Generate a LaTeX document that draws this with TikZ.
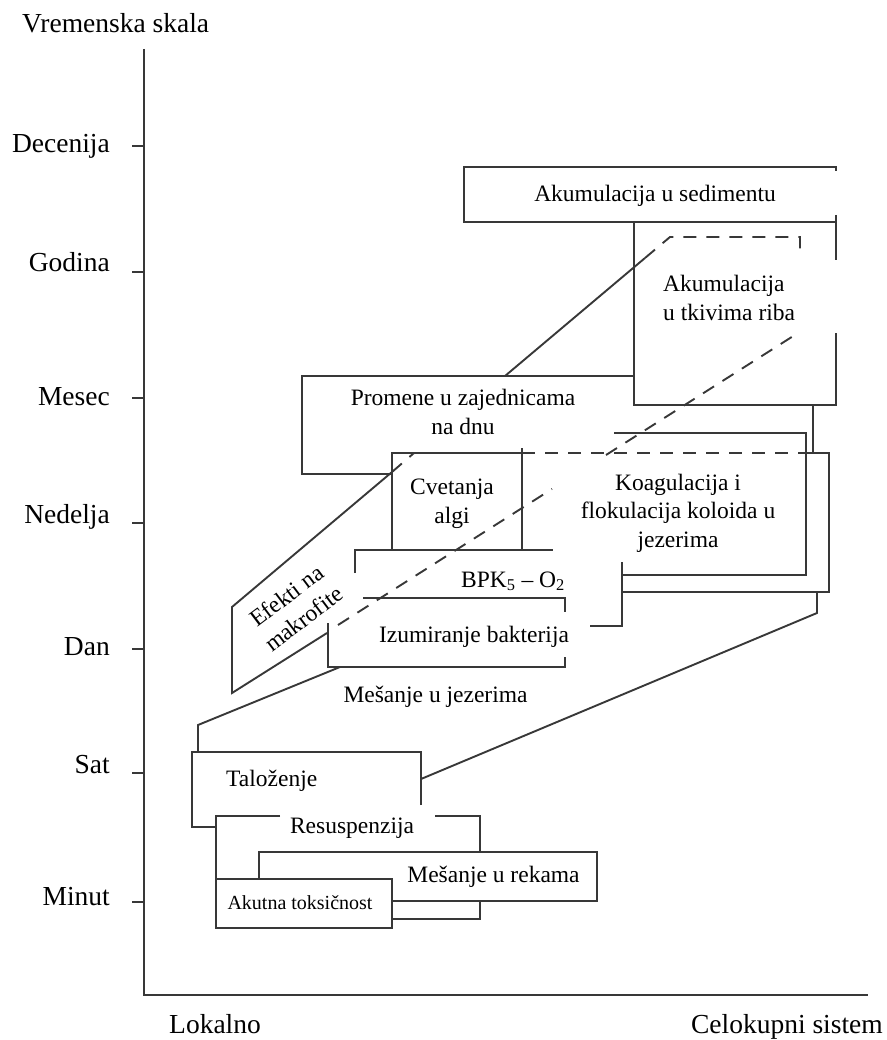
\documentclass[tikz,border=0pt]{standalone}
\usepackage{fontspec}
\setmainfont{Liberation Serif}
\usepackage{tikz}
\usetikzlibrary{calc,positioning}
\newcommand{\axisfont}{\fontsize{27.5}{30}\selectfont}
\newcommand{\boxfont}{\fontsize{23.5}{28.5}\selectfont}
\newcommand{\smallboxfont}{\fontsize{20}{24}\selectfont}

\begin{document}
\begin{tikzpicture}[x=1pt,y=-1pt,
  edge/.style={line width=1.9pt,black!78,line join=miter},
  hid/.style={edge,dash pattern=on 13pt off 10pt},
  lbl/.style={font=\boxfont,inner sep=0pt,anchor=base,align=center},
  axlbl/.style={font=\axisfont,inner sep=0pt}]
\useasboundingbox (0,0) rectangle (886,1040);
% axes
\draw[edge] (144,49) -- (144,995) -- (868,995);
\node[axlbl,anchor=base west] (vrijeme) at (22,33) {Vremenska skala};
\node[axlbl,anchor=base west] (lokalno) at (169,1033) {Lokalno};
\node[axlbl,anchor=base east] (sistem) at (883,1033) {Celokupni sistem};
\foreach \y/\yb/\ytext in {146/153/Decenija,272/272/Godina,398/405/Mesec,523/523/Nedelja,649/655/Dan,773/773/Sat,902/905/Minut}
  {\draw[edge] (132,\y) -- (144,\y);
   \node[axlbl,anchor=base east] (t\y) at (110,\yb) {\ytext};}
% akumulacija u sedimentu
\draw[edge] (836,171) -- (836,167) -- (464,167) -- (464,222) -- (836,222);
\node[lbl] (sediment) at (655,202) {Akumulacija u sedimentu};
% akumulacija u tkivima riba (base = last line)
\draw[edge] (836,215) -- (836,260);
\draw[edge] (634,222) -- (634,405) -- (836,405) -- (836,333);
\node[lbl,anchor=base west,align=left] (ribe) at (663,320) {Akumulacija\\u tkivima riba};
% efekti na makrofite
\draw[edge] (392,472) -- (232,607) -- (232,693) -- (327,633);
\draw[hid] (392,472) -- (414,453);
\draw[edge] (505,376) -- (645,258);
\draw[hid] (645,258) -- (670,237) -- (800,237) -- (800,251);
\draw[hid] (338,625) -- (552,489);
\draw[hid] (606,455) -- (798,333);
\node[lbl,anchor=center,rotate=37] (makrofite) at (295,607) {Efekti na\\makrofite};
% promene u zajednicama na dnu
\draw[edge] (634,376) -- (302,376) -- (302,474) -- (392,474);
\draw[edge] (813,405) -- (813,453);
\node[lbl] (dno) at (463,434) {Promene u zajednicama\\na dnu};
% cvetanja algi
\draw[edge] (392,550) -- (392,453) -- (522,453);
\draw[edge] (522,448) -- (522,550);
\node[lbl] (alge) at (452,523) {Cvetanja\\algi};
% koagulacija
\draw[hid] (522,453) -- (805,453);
\draw[edge] (805,453) -- (829,453) -- (829,592) -- (622,592);
\draw[edge] (614,433) -- (806,433) -- (806,575) -- (622,575);
\node[lbl] (koloidi) at (678,547) {Koagulacija i\\flokulacija koloida u\\jezerima};
% BPK
\draw[edge] (355,573) -- (355,550) -- (553,550);
\draw[edge] (622,562) -- (622,626) -- (590,626);
\node[lbl,anchor=base west] (bpk) at (461,587) {BPK\textsubscript{5} – O\textsubscript{2}};
% izumiranje bakterija
\draw[edge] (363,598) -- (565,598) -- (565,612);
\draw[edge] (565,657) -- (565,667) -- (328,667) -- (328,623);
\node[lbl] (bakterije) at (474,642) {Izumiranje bakterija};
% mesanje u jezerima
\draw[edge] (198,752) -- (198,725) -- (340,667);
\draw[edge] (817,592) -- (817,613) -- (421,779);
\node[lbl] (jezera) at (435.5,702) {Mešanje u jezerima};
% talozenje
\draw[edge] (421,805) -- (421,752) -- (192,752) -- (192,827) -- (216,827);
\node[lbl,anchor=base west] (talog) at (226,786) {Taloženje};
% resuspenzija
\draw[edge] (280,816) -- (216,816) -- (216,879);
\draw[edge] (435,816) -- (480,816) -- (480,852);
\draw[edge] (480,901) -- (480,919) -- (392,919);
\node[lbl] (resusp) at (352,833) {Resuspenzija};
% mesanje u rekama
\draw[edge] (259,879) -- (259,852) -- (597,852) -- (597,901) -- (392,901);
\node[lbl] (reke) at (493.5,882) {Mešanje u rekama};
% akutna toksicnost
\draw[edge] (216,879) rectangle (392,928);
\node[lbl,font=\smallboxfont] (toks) at (300,909) {Akutna toksičnost};
\end{tikzpicture}
\end{document}
